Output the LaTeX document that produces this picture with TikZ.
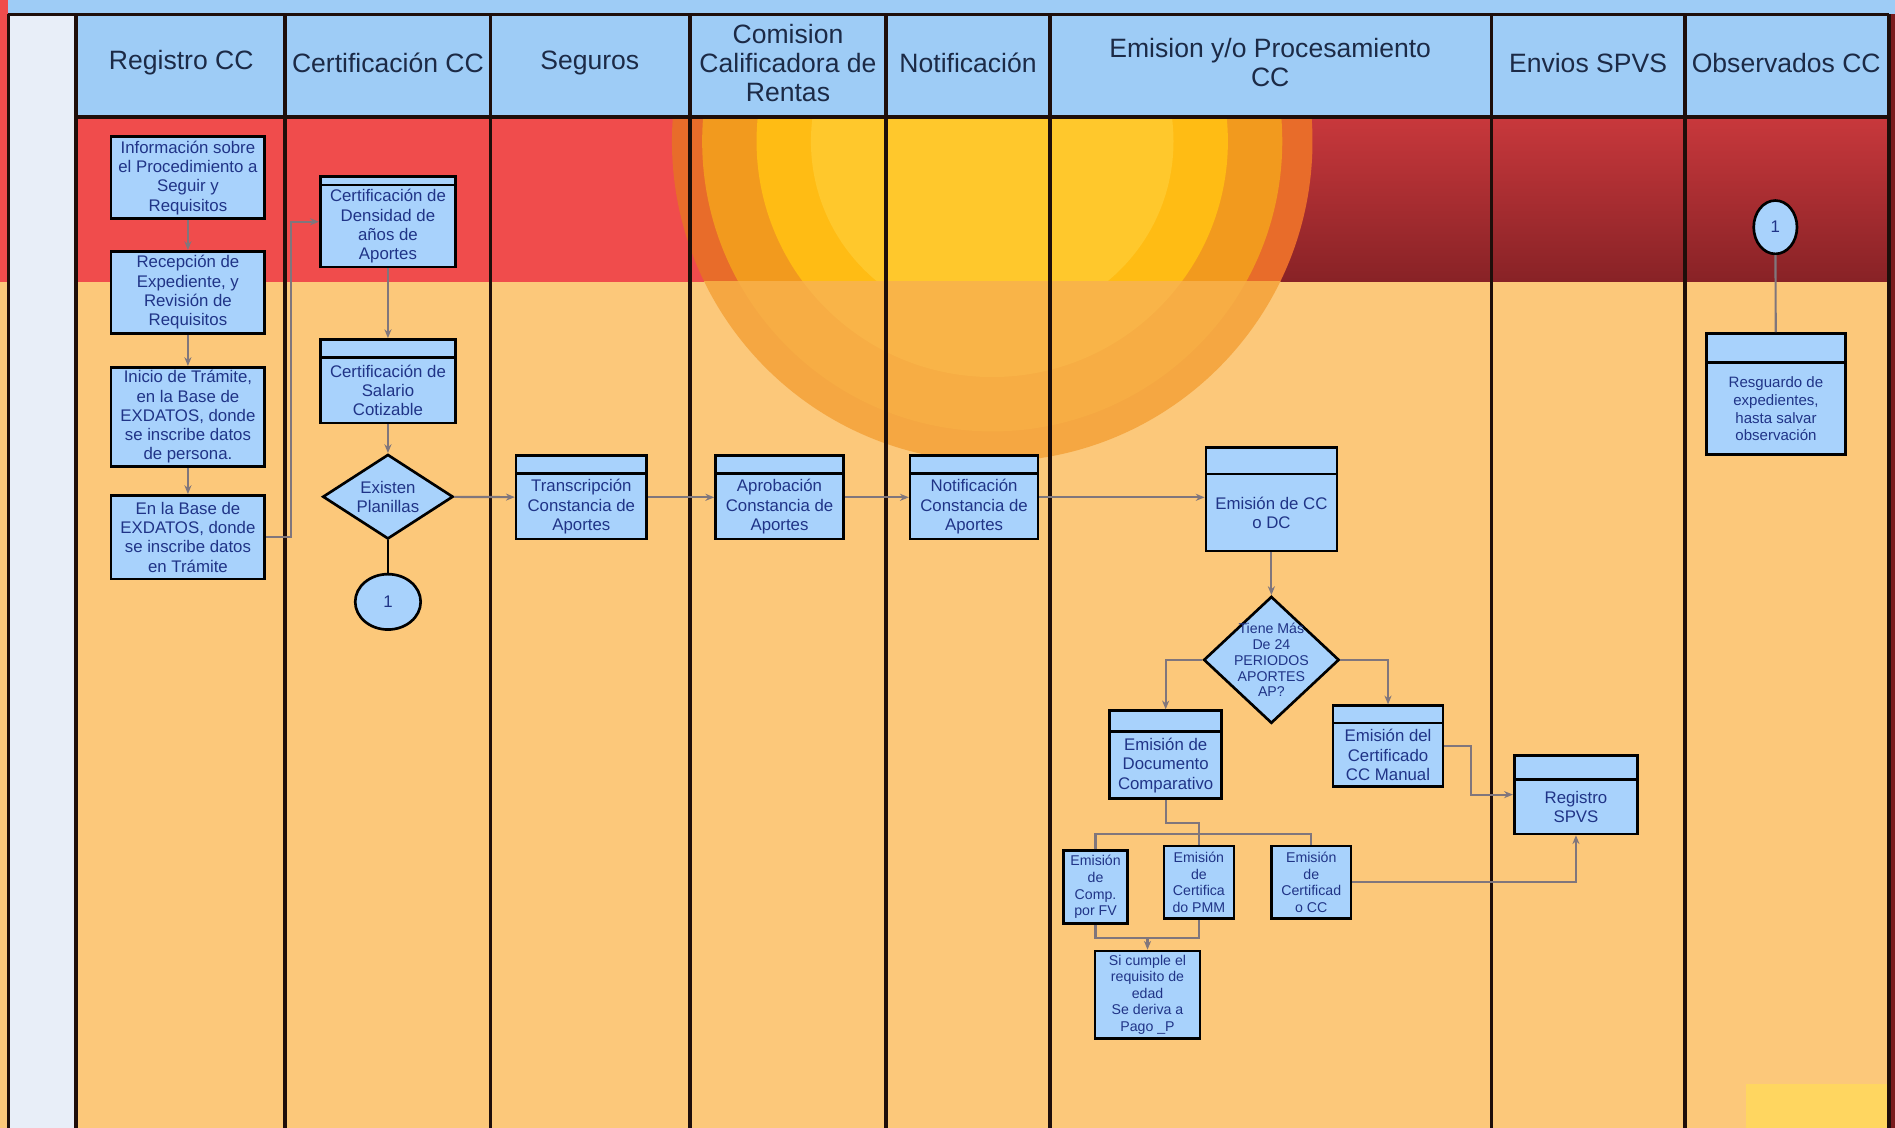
\documentclass[tikz,border=0pt]{standalone}
\usepackage{fontspec}
\setmainfont{Liberation Sans}
\usepackage{tikz}
\usetikzlibrary{shapes, shapes.geometric, arrows.meta, positioning, calc}

\definecolor{headblue}{RGB}{158, 204, 246}
\definecolor{boxblue}{RGB}{168, 210, 252}
\definecolor{stripgray}{RGB}{232, 238, 248}
\definecolor{bandred}{RGB}{240, 76, 76}
\definecolor{redtop}{RGB}{200, 56, 60}
\definecolor{redbottom}{RGB}{136, 34, 38}
\definecolor{darkred}{RGB}{122, 28, 30}
\definecolor{bandorange}{RGB}{252, 200, 122}
\definecolor{sunedge}{RGB}{232, 108, 42}
\definecolor{sunouter}{RGB}{242, 154, 30}
\definecolor{sunmid}{RGB}{255, 188, 20}
\definecolor{suncore}{RGB}{255, 200, 44}
\definecolor{glowouter}{RGB}{245, 167, 66}
\definecolor{glowmid}{RGB}{247, 173, 68}
\definecolor{glowcore}{RGB}{249, 180, 72}
\definecolor{patchyellow}{RGB}{255, 214, 96}
\definecolor{lanetext}{RGB}{28, 42, 70}
\definecolor{boxtext}{RGB}{32, 52, 135}
\definecolor{flowgray}{RGB}{128, 118, 124}
\definecolor{laneline}{RGB}{30, 14, 10}

\begin{document}
\begin{tikzpicture}[x=0.24mm, y=-0.24mm,
  actbox/.style={draw=black, fill=boxblue, line width=1.5pt, align=center, text=boxtext, inner sep=0.6mm, font=\fontsize{9.5}{10.9}\selectfont},
  barbox/.style={actbox, path picture={\draw[line width=1.5pt] ([yshift=-#1]path picture bounding box.north west) -- ([yshift=-#1]path picture bounding box.north east);}},
  decision/.style={actbox, diamond, shape aspect=1.4, inner sep=-1.5mm},
  jump/.style={actbox, ellipse, inner sep=0pt},
  flow/.style={draw=flowgray, line width=1.2pt, -{Stealth[length=5pt, width=4pt]}},
  link/.style={draw=flowgray, line width=1.2pt},
  tie/.style={draw=black, line width=1.6pt},
  lane/.style={draw=laneline, line width=2pt},
  lanehead/.style={text=lanetext, align=center, font=\fontsize{15}{16.4}\selectfont}]

  \useasboundingbox (0,0) rectangle (1568,933);

  % background bands
  \fill[bandorange] (0,0) rectangle (1568,933);
  \fill[headblue] (0,0) rectangle (1568,12);
  \fill[bandred] (0,0) rectangle (7,233);
  \fill[bandred] (7,97) rectangle (821,233);
  \shade[top color=redtop, bottom color=redbottom] (821,97) rectangle (1568,233);

  % sun glow, red part and orange part
  \begin{scope}
    \clip (63,97) rectangle (1563,233);
    \fill[sunedge] (821,117) circle[radius=265];
    \fill[sunouter] (821,117) circle[radius=240];
    \fill[sunmid] (821,117) circle[radius=195];
    \fill[suncore] (821,117) circle[radius=150];
  \end{scope}
  \begin{scope}
    \clip (63,233) rectangle (1563,933);
    \fill[glowouter] (821,117) circle[radius=265];
    \fill[glowmid] (821,117) circle[radius=240];
    \fill[glowcore] (821,117) circle[radius=195];
  \end{scope}

  \fill[headblue] (63,12) rectangle (1563,97);
  \fill[stripgray] (7,12) rectangle (63,933);
  \fill[darkred] (1563,12) rectangle (1568,933);
  \fill[patchyellow] (1445,897) rectangle (1563,933);

  % lanes
  \draw[lane] (7,12) -- (1563,12);
  \draw[lane] (63,97) -- (1563,97);
  \foreach \x in {7,63,236,406,571,733,869,1234,1394,1563}
    \draw[lane] (\x,12) -- (\x,933);

  % lane titles
  \node[lanehead] (hregistro) at (150,52) {Registro CC};
  \node[lanehead] (hcertif) at (321,52) {Certificación CC};
  \node[lanehead] (hseguros) at (488,52) {Seguros};
  \node[lanehead] (hcomision) at (652,52) {Comision\\Calificadora de\\Rentas};
  \node[lanehead] (hnotif) at (801,52) {Notificación};
  \node[lanehead] (hemision) at (1051,52) {Emision y/o Procesamiento\\CC};
  \node[lanehead] (henvios) at (1314,52) {Envios SPVS};
  \node[lanehead] (hobserv) at (1478,52) {Observados CC};

  % Registro CC
  \node[actbox, minimum width=30.5mm, minimum height=16.3mm] (info) at (155.5,147) {Información sobre\\el Procedimiento a\\Seguir y\\Requisitos};
  \node[actbox, minimum width=30.5mm, minimum height=16.3mm] (recep) at (155.5,242) {Recepción de\\Expediente, y\\Revisión de\\Requisitos};
  \node[actbox, minimum width=30.5mm, minimum height=19.7mm] (inicio) at (155.5,345) {Inicio de Trámite,\\en la Base de\\EXDATOS, donde\\se inscribe datos\\de persona.};
  \node[actbox, minimum width=30.5mm, minimum height=16.6mm] (base) at (155.5,444.5) {En la Base de\\EXDATOS, donde\\se inscribe datos\\en Trámite};

  % Certificacion CC
  \node[barbox=1.7mm, minimum width=26.9mm, minimum height=18mm] (densidad) at (321,183.5) {\\[1.2pt]Certificación de\\Densidad de\\años de\\Aportes};
  \node[barbox=3.6mm, minimum width=26.9mm, minimum height=16.6mm] (salario) at (321,315.5) {\\[6.6pt]Certificación de\\Salario\\Cotizable};
  \node[decision, minimum width=25.9mm, minimum height=16.8mm] (existen) at (321,411) {Existen\\Planillas};
  \node[jump, minimum width=13mm, minimum height=11mm] (conn1) at (321,498) {1};

  % Seguros, Comision, Notificacion
  \node[barbox=3.6mm, minimum width=25.9mm, minimum height=16.6mm] (trans) at (481,411.5) {\\[6.6pt]Transcripción\\Constancia de\\Aportes};
  \node[barbox=3.6mm, minimum width=25.4mm, minimum height=16.6mm] (aprob) at (645,411.5) {\\[6.6pt]Aprobación\\Constancia de\\Aportes};
  \node[barbox=3.6mm, minimum width=25.4mm, minimum height=16.6mm] (notif) at (806,411.5) {\\[6.6pt]Notificación\\Constancia de\\Aportes};

  % Emision y/o Procesamiento CC
  \node[barbox=5.3mm, minimum width=26mm, minimum height=20.6mm] (emision) at (1052,413) {\\[11.4pt]Emisión de CC\\o DC};
  \node[decision, shape aspect=1.07, inner sep=-2.5mm, minimum width=26.9mm, minimum height=25.2mm, font=\fontsize{8}{9}\selectfont] (tiene) at (1052,546) {Tiene Más\\De 24\\PERIODOS\\APORTES\\AP?};
  \node[barbox=4.1mm, minimum width=22.3mm, minimum height=17.5mm] (comparativo) at (964.5,624.5) {\\[8pt]Emisión de\\Documento\\Comparativo};
  \node[barbox=3.4mm, minimum width=21.8mm, minimum height=16.1mm] (manual) at (1148.5,617.5) {\\[6pt]Emisión del\\Certificado\\CC Manual};
  \node[actbox, minimum width=12.7mm, minimum height=14.4mm, font=\fontsize{8}{9.4}\selectfont] (fv) at (906.5,734) {Emisión\\de\\Comp.\\por FV};
  \node[actbox, minimum width=13.9mm, minimum height=14.4mm, font=\fontsize{8}{9.4}\selectfont] (pmm) at (992,730) {Emisión\\de\\Certifica\\do PMM};
  \node[actbox, minimum width=15.8mm, minimum height=14.4mm, font=\fontsize{8}{9.4}\selectfont] (cc) at (1085,730) {Emisión\\de\\Certificad\\o CC};
  \node[actbox, minimum width=20.9mm, minimum height=17.3mm, font=\fontsize{8}{9.4}\selectfont] (pago) at (949.5,823) {Si cumple el\\requisito de\\edad\\Se deriva a\\Pago \_P};

  % Envios SPVS
  \node[barbox=4.8mm, minimum width=24.5mm, minimum height=15.6mm] (spvs) at (1304,657.5) {\\[10pt]Registro\\SPVS};

  % Observados CC
  \node[jump, minimum width=8.6mm, minimum height=10.6mm] (conn2) at (1469,188) {1};
  \node[barbox=5.8mm, minimum width=27.6mm, minimum height=24mm, font=\fontsize{8.5}{10}\selectfont] (resguardo) at (1469.5,326) {\\[12.9pt]Resguardo de\\expedientes,\\hasta salvar\\observación};

  % connectors
  \coordinate (bus) at (992,690);
  \coordinate (joint) at (949.5,776);
  \draw[flow] (info) -- (recep);
  \draw[flow] (recep) -- (inicio);
  \draw[flow] (inicio) -- (base);
  \draw[flow] (base.east) -- ++(21,0) |- (densidad.west);
  \draw[flow] (densidad) -- (salario);
  \draw[flow] (salario) -- (existen);
  \draw[tie] (existen) -- (conn1);
  \draw[flow] (existen) -- (trans);
  \draw[flow] (trans) -- (aprob);
  \draw[flow] (aprob) -- (notif);
  \draw[flow] (notif.east) -- (notif.east -| emision.west);
  \draw[flow] (emision) -- (tiene);
  \draw[flow] (tiene.west) -| (comparativo.north);
  \draw[flow] (tiene.east) -| (manual.north);
  \draw[link] (comparativo.south) -- ++(0,19) -| (pmm.north);
  \draw[link] (fv.north) |- (bus) -| (cc.north);
  \draw[link] (fv.south) |- (joint) -| (pmm.south);
  \draw[flow] (joint) -- (pago.north);
  \draw[flow] (manual.east) -- ++(22,0) |- (spvs.west);
  \draw[flow] (cc.east) -| (spvs.south);
  \draw[link] (conn2) -- (resguardo);
\end{tikzpicture}
\end{document}
